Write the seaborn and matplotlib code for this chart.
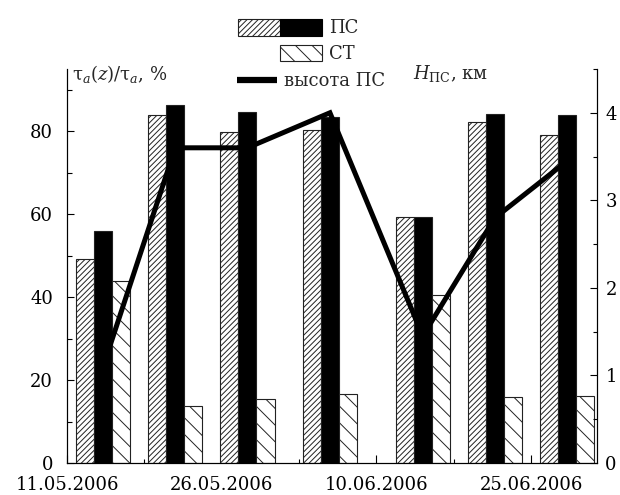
import numpy as np
import pandas as pd
import matplotlib
matplotlib.use("Agg")
import matplotlib.pyplot as plt
import seaborn as sns
from matplotlib.patches import Patch
from matplotlib.lines import Line2D
from matplotlib.legend_handler import HandlerTuple
from matplotlib.ticker import MultipleLocator, FixedLocator

# ---- data ----
start_date = "11.05.2006"
dates = ["14.05.2006", "21.05.2006", "28.05.2006", "05.06.2006",
         "14.06.2006", "21.06.2006", "28.06.2006"]
ps_a = [49.2, 83.9, 79.9, 80.4, 59.4, 82.3, 79.2]     # ПС (hatched)
ps_b = [56.0, 86.3, 84.6, 83.4, 59.4, 84.1, 83.9]     # ПС (black)
st = [44.0, 13.7, 15.5, 16.6, 40.5, 15.9, 16.1]       # СТ
h_ps = [1.1, 3.6, 3.6, 4.0, 1.45, 2.8, 3.45]          # высота ПС, км
tick_dates = ["11.05.2006", "26.05.2006", "10.06.2006", "25.06.2006"]

sns.set_theme(style="ticks")
plt.rcParams["font.family"] = ["DejaVu Serif"]
plt.rcParams["mathtext.fontset"] = "dejavuserif"
plt.rcParams["hatch.linewidth"] = 0.7

t0 = pd.to_datetime(start_date, format="%d.%m.%Y")
def to_day(s):
    return (pd.to_datetime(s, format="%d.%m.%Y") - t0).days

x_days = np.array([to_day(d) for d in dates]) + 0.5   # midday of each date

series_names = ["ПС-1", "ПС-2", "СТ"]
df = pd.DataFrame({
    "day": np.concatenate([x_days] * 3),
    "value": np.concatenate([ps_a, ps_b, st]),
    "series": np.repeat(series_names, len(dates)),
})

fig = plt.figure(figsize=(6.2, 4.95), dpi=100)
ax = fig.add_axes([67 / 620, 1 - 463 / 495, (597 - 67) / 620, (463 - 69) / 495])

sns.barplot(data=df, x="day", y="value", hue="series", hue_order=series_names,
            native_scale=True, width=0.75, gap=0, dodge=True,
            palette=["white", "black", "white"], edgecolor="#222222",
            linewidth=0.8, errorbar=None, legend=False, ax=ax)

hatches = ["//////", None, "\\\\"]
for cont, h in zip(ax.containers, hatches):
    for p in cont.patches:
        if h:
            p.set_hatch(h)

ax.set_xlim(0, 51.4)
ax.set_ylim(0, 95)
ax.set_xlabel("")
ax.set_ylabel("")
tick_pos = [to_day(d) for d in tick_dates]
ax.xaxis.set_major_locator(FixedLocator(tick_pos))
ax.set_xticklabels(tick_dates)
ax.xaxis.set_minor_locator(FixedLocator([p + 7.5 for p in tick_pos]))
ax.yaxis.set_major_locator(MultipleLocator(20))
ax.yaxis.set_minor_locator(MultipleLocator(10))
ax.tick_params(axis="both", which="both", direction="in", width=0.8, colors="black",
               labelsize=13)
ax.tick_params(axis="x", which="major", length=5.5, pad=9)
ax.tick_params(axis="x", which="minor", length=3)
ax.tick_params(axis="y", which="major", length=5, pad=10)
ax.tick_params(axis="y", which="minor", length=3.5)

ax2 = ax.twinx()
sns.lineplot(x=x_days, y=h_ps, color="black", linewidth=3.6, ax=ax2,
             solid_joinstyle="miter", solid_capstyle="butt")
ax2.set_ylim(0, 4.5)
ax2.yaxis.set_major_locator(MultipleLocator(1))
ax2.yaxis.set_minor_locator(MultipleLocator(0.5))
ax2.tick_params(axis="y", which="both", direction="in", width=0.8, labelsize=13,
                colors="black")
ax2.tick_params(axis="y", which="major", length=5, pad=6)
ax2.tick_params(axis="y", which="minor", length=3)

for a in (ax, ax2):
    a.spines["top"].set_visible(False)
    for s in ("left", "right", "bottom"):
        a.spines[s].set_linewidth(0.8)
        a.spines[s].set_color("black")
ax.spines["right"].set_visible(True)

fig.text(72 / 620, 1 - 74 / 495, "τ$_a$($z$)/τ$_a$, %", ha="left", va="center",
         fontsize=13)
fig.text(488 / 620, 1 - 74 / 495, r"$H_{\mathrm{ПС}}$, км", ha="right", va="center",
         fontsize=13)

# legends
h_ps_a = Patch(facecolor="white", edgecolor="#222222", hatch="//////", linewidth=0.8)
h_ps_b = Patch(facecolor="black", edgecolor="black", linewidth=0.8)
h_st = Patch(facecolor="white", edgecolor="#222222", hatch="\\\\", linewidth=0.8)
h_line = Line2D([], [], color="black", linewidth=4.5, solid_capstyle="butt")

common = dict(frameon=False, borderpad=0, borderaxespad=0, fontsize=13,
              handletextpad=0.4, loc="center left")
leg1 = fig.legend([(h_ps_a, h_ps_b)], ["ПС"], handler_map={tuple: HandlerTuple(ndivide=None, pad=0)},
                  bbox_to_anchor=(238 / 620, 1 - 28 / 495), handlelength=84 / 18,
                  handleheight=19 / 18, **common)
leg2 = fig.legend([h_st], ["СТ"], bbox_to_anchor=(280 / 620, 1 - 54 / 495),
                  handlelength=42 / 18, handleheight=18 / 18, **common)
leg3 = fig.legend([h_line], ["высота ПС"], bbox_to_anchor=(237 / 620, 1 - 81 / 495),
                  handlelength=40 / 18, **common)

fig.savefig("out.png", dpi=100)
